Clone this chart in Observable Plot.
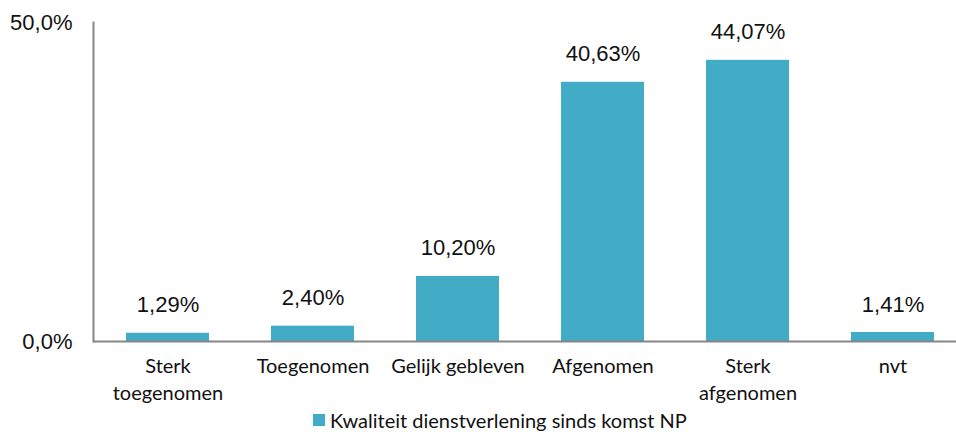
<!DOCTYPE html>
<html>
<head>
<meta charset="utf-8">
<script src="https://cdn.jsdelivr.net/npm/d3@7"></script>
<script src="https://cdn.jsdelivr.net/npm/@observablehq/plot@0.6"></script>
<style>
  html, body { margin: 0; padding: 0; background: #fff; overflow: hidden; }
  #chart svg { overflow: visible; }
  .legend { position: relative; height: 26px; font-family: Lato, "Open Sans", sans-serif; font-size: 20px; color: #111; }
  .legend .item { position: absolute; left: 313px; top: 2px; display: flex; align-items: center; white-space: nowrap; }
  .legend .sw { width: 12px; height: 12px; background: #42ABC6; margin-right: 5px; }
</style>
</head>
<body>
<div id="chart"></div>
<div class="legend"><div class="item"><span class="sw"></span><span id="legtext"></span></div></div>
<script>
const categories = ["Sterk\ntoegenomen", "Toegenomen", "Gelijk gebleven", "Afgenomen", "Sterk\nafgenomen", "nvt"];
const values = [1.29, 2.40, 10.20, 40.63, 44.07, 1.41];
const yTicks = [0, 50];
const seriesName = "Kwaliteit dienstverlening sinds komst NP";

const data = categories.map((c, i) => ({category: c, value: values[i]}));
const fmt = v => v.toFixed(2).replace(".", ",") + "%";
const fmtTick = v => v.toFixed(1).replace(".", ",") + "%";
const color = "#42ABC6";

const plot = Plot.plot({
  width: 956,
  height: 406,
  marginLeft: 93,
  marginRight: 0,
  marginTop: 22,
  marginBottom: 65,
  style: {background: "transparent"},
  x: {domain: categories, range: [93, 966], paddingInner: 0.43, paddingOuter: 0.215, label: null},
  y: {domain: [0, 50], label: null},
  marks: [
    Plot.barY(data, {x: "category", y: "value", fill: color}),
    Plot.text(data, {x: "category", y: "value", text: d => fmt(d.value), lineAnchor: "bottom", dy: -21,
      fontSize: 22, fontFamily: "'Liberation Sans', Arial, sans-serif", fill: "#111"}),
    Plot.axisY({ticks: yTicks, tickFormat: fmtTick, tickSize: 0, tickPadding: 21, label: null,
      fontSize: 22, fontFamily: "'Liberation Sans', Arial, sans-serif", fill: "#111"}),
    Plot.axisX({tickSize: 0, tickPadding: 12, label: null, lineHeight: 1.35,
      fontSize: 20, fontFamily: "Lato, 'Open Sans', sans-serif", fill: "#111"}),
    Plot.frame({anchor: "left", stroke: "#868686", strokeWidth: 2}),
    Plot.ruleY([0], {stroke: "#868686", strokeWidth: 2})
  ]
});
document.getElementById("chart").appendChild(plot);
document.getElementById("legtext").textContent = seriesName;
</script>
</body>
</html>
